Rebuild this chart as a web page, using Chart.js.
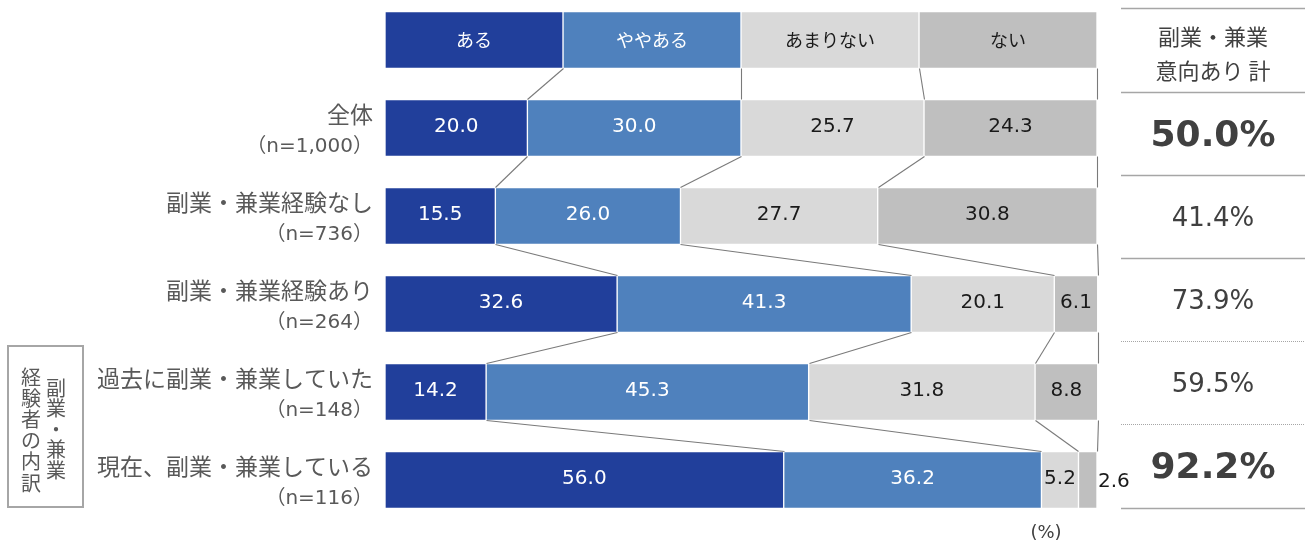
<!DOCTYPE html>
<html lang="ja">
<head>
<meta charset="utf-8">
<script src="https://cdn.jsdelivr.net/npm/chart.js@4"></script>
<style>
  html, body { margin: 0; padding: 0; background: #fff; }
  #wrap { position: relative; width: 1311px; height: 544px; }
</style>
</head>
<body>
<div id="wrap"><canvas id="myChart"></canvas></div>
<script>
// Rows (top to bottom)
const groups = ['全体', '副業・兼業経験なし', '副業・兼業経験あり', '過去に副業・兼業していた', '現在、副業・兼業している'];
const groupNs = ['（n=1,000）', '（n=736）', '（n=264）', '（n=148）', '（n=116）'];

// Answer categories (the key row at the top shows them at equal width)
const answerNames = ['ある', 'ややある', 'あまりない', 'ない'];
const keyShare = 25;

// Values (%)
const aru      = [20.0, 15.5, 32.6, 14.2, 56.0];
const yayaAru  = [30.0, 26.0, 41.3, 45.3, 36.2];
const amariNai = [25.7, 27.7, 20.1, 31.8, 5.2];
const nai      = [24.3, 30.8, 6.1, 8.8, 2.6];

// Right column: ある + ややある
const intentTotal = [50.0, 41.4, 73.9, 59.5, 92.2];
const intentBold = [true, false, false, false, true];
const totalTitle = ['副業・兼業', '意向あり 計'];
const boxTitle = ['副業・兼業', '経験者の内訳'];

const colors = ['#213F9B', '#4F81BD', '#D9D9D9', '#BFBFBF'];
const textColors = ['#ffffff', '#ffffff', '#1a1a1a', '#1a1a1a'];

const series = [aru, yayaAru, amariNai, nai];

const JP = '"Noto Sans CJK JP"';
const NUM = '"DejaVu Sans", "Noto Sans CJK JP"';

const drawPlugin = {
    id: 'drawExtras',
    afterDatasetsDraw(chart) {
        const ctx = chart.ctx;
        const metas = chart.data.datasets.map((d, i) => chart.getDatasetMeta(i));
        const n = chart.data.labels.length;
        ctx.save();

        // connector lines between rows
        ctx.strokeStyle = '#7a7a7a';
        ctx.lineWidth = 1.1;
        for (let r = 0; r < n - 1; r++) {
            metas.forEach(meta => {
                const a = meta.data[r], b = meta.data[r + 1];
                ctx.beginPath();
                ctx.moveTo(Math.round(a.x) + 0.5, a.y + a.height / 2);
                ctx.lineTo(Math.round(b.x) + 0.5, b.y - b.height / 2);
                ctx.stroke();
            });
        }

        // labels in the bars
        ctx.textBaseline = 'middle';
        metas.forEach((meta, di) => {
            meta.data.forEach((bar, r) => {
                const w = bar.x - bar.base;
                let text;
                if (r === 0) {
                    text = answerNames[di];
                    ctx.font = '18px ' + JP;
                } else {
                    text = chart.data.datasets[di].data[r].toFixed(1);
                    ctx.font = '20px ' + NUM;
                }
                ctx.fillStyle = textColors[di];
                if (w < 25) {
                    ctx.textAlign = 'left';
                    ctx.fillStyle = '#1a1a1a';
                    ctx.fillText(text, bar.x + 1, bar.y + 2);
                } else {
                    ctx.textAlign = 'center';
                    ctx.fillText(text, (bar.x + bar.base) / 2, r === 0 ? bar.y : bar.y - 1);
                }
            });
        });

        // row labels on the left
        const rows = metas[0].data;
        ctx.fillStyle = '#595959';
        ctx.textAlign = 'right';
        groups.forEach((g, i) => {
            const y = rows[i + 1].y;
            ctx.font = '23px ' + JP;
            ctx.fillText(g, 373, y - 14);
            ctx.font = '20px ' + NUM;
            ctx.fillText(groupNs[i], 373, y + 19);
        });

        // box with vertical text
        ctx.strokeStyle = '#a6a6a6';
        ctx.lineWidth = 2;
        ctx.strokeRect(8, 346, 75, 161);
        ctx.font = '20px ' + JP;
        ctx.textAlign = 'center';
        [...boxTitle[0]].forEach((ch, i) => ctx.fillText(ch, 56, 388 + i * 20.5));
        [...boxTitle[1]].forEach((ch, i) => ctx.fillText(ch, 31, 377 + i * 21.2));

        // right column
        const lineYs = [8, 92, 175, 258, 341, 424, 508];
        const dotted = [false, false, false, false, true, true, false];
        ctx.strokeStyle = '#a6a6a6';
        lineYs.forEach((y, i) => {
            ctx.beginPath();
            ctx.lineWidth = dotted[i] ? 1 : 1.5;
            ctx.setLineDash(dotted[i] ? [1, 1] : []);
            ctx.moveTo(1121, y + 0.5);
            ctx.lineTo(1305, y + 0.5);
            ctx.stroke();
        });
        ctx.setLineDash([]);
        ctx.fillStyle = '#404040';
        ctx.font = '22px ' + JP;
        ctx.fillText(totalTitle[0], 1213, 37);
        ctx.fillText(totalTitle[1], 1213, 71);
        intentTotal.forEach((v, i) => {
            const y = (lineYs[i + 1] + lineYs[i + 2]) / 2 + 3;
            ctx.font = intentBold[i] ? 'bold 36px ' + NUM : '26px ' + NUM;
            ctx.fillText(v.toFixed(1) + '%', 1213, y);
        });

        // unit
        ctx.font = '18px ' + NUM;
        ctx.fillText('(%)', 1046, 533);

        ctx.restore();
    }
};

const ctx = document.getElementById('myChart').getContext('2d');
const chart = new Chart(ctx, {
    type: 'bar',
    data: {
        labels: ['', ...groups],
        datasets: series.map((vals, i) => ({
            label: answerNames[i],
            data: [keyShare, ...vals],
            backgroundColor: colors[i],
            borderColor: '#ffffff',
            borderWidth: 1,
            borderSkipped: false,
            barThickness: 57,
            clip: false
        }))
    },
    options: {
        indexAxis: 'y',
        responsive: true,
        maintainAspectRatio: false,
        animation: false,
        layout: {
            padding: { left: 385, right: 214, top: 40, bottom: 64 }
        },
        plugins: {
            legend: { display: false },
            tooltip: { enabled: false }
        },
        scales: {
            x: { stacked: true, min: 0, max: 100, display: false },
            y: { stacked: true, offset: false, display: false }
        }
    },
    plugins: [drawPlugin]
});
</script>
</body>
</html>
